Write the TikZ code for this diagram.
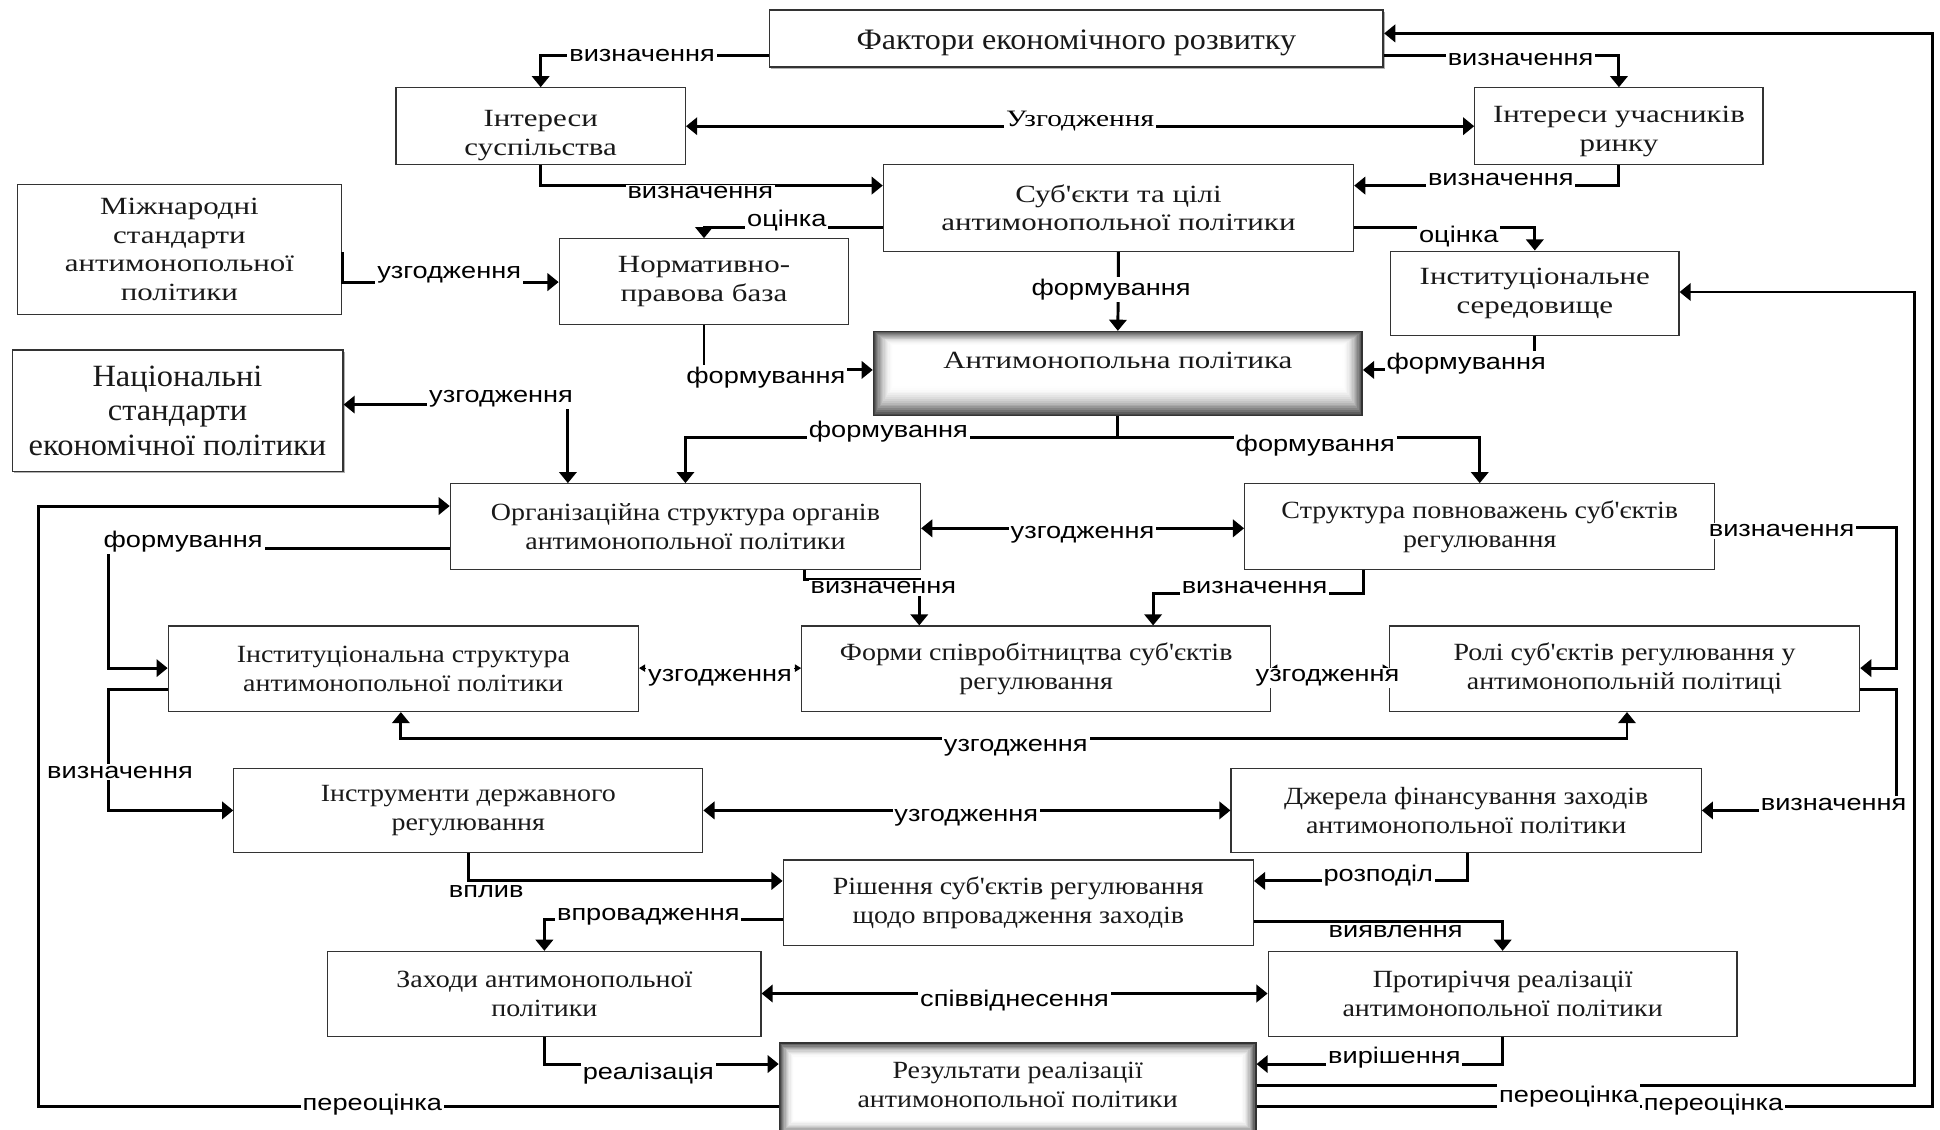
\documentclass[tikz,border=0pt]{standalone}
\usepackage{fontspec}
\setmainfont{Liberation Serif}
\newfontfamily\upfont{Liberation Serif}[FakeStretch=1.25]
\newfontfamily\lowfont{Liberation Serif}[FakeStretch=1.13]
\newfontfamily\lblfont{Liberation Sans}[FakeStretch=1.2]
\newfontfamily\bigfont{Liberation Serif}[FakeStretch=1.05]
\newfontfamily\fakfont{Liberation Serif}[FakeStretch=1.08]
\newcommand\mydn[1]{\rule{0pt}{#1pt}}
\usetikzlibrary{arrows.meta,shadows}
\begin{document}
\begin{tikzpicture}[x=1pt,y=-1pt,
  box/.style={draw=black!80, line width=1pt, fill=white, align=center, inner sep=0pt,
    font=\upfont\fontsize{20}{23}\selectfont, text=black!90},
  lbox/.style={box, font=\lowfont\fontsize{20}{23.5}\selectfont},
  bigbox/.style={box, line width=1.4pt, font=\bigfont\fontsize{25}{28}\selectfont,
    drop shadow={shadow xshift=1.5pt,shadow yshift=-1.5pt,fill=black!60}},
  glowA/.style={box, line width=1.2pt, path picture={
    \foreach \i in {0,...,16}{
      \pgfmathsetmacro\cc{72*(1-\i/16)^2}
      \fill[black!\cc] ([xshift=\i pt,yshift=1.5*\i pt]path picture bounding box.south west)
        rectangle ([xshift=-\i pt,yshift=-0.7*\i pt]path picture bounding box.north east);
    }}},
  glowB/.style={box, line width=1.2pt, path picture={
    \foreach \i in {0,...,12}{
      \pgfmathsetmacro\cc{72*(1-\i/12)^2}
      \fill[black!\cc] ([xshift=\i pt,yshift=\i pt]path picture bounding box.south west)
        rectangle ([xshift=-\i pt,yshift=-\i pt]path picture bounding box.north east);
    }}},
  conn/.style={line width=2.4pt, draw=black},
  arr/.style={conn, -{Triangle[length=9pt,width=14pt]}},
  darr/.style={conn, {Triangle[length=9pt,width=14pt]}-{Triangle[length=9pt,width=14pt]}},
  tarr/.style={line width=0.8pt, draw=black, {Triangle[length=5pt,width=6pt]}-{Triangle[length=5pt,width=6pt]}},
  lbl/.style={font=\lblfont\fontsize{18.3}{20}\selectfont, fill=white, inner sep=1.5pt},
  slbl/.style={font=\upfont\fontsize{19}{21}\selectfont, fill=white, inner sep=1.5pt}
]
\useasboundingbox (0,0) rectangle (1568,913);
\fill[white] (0,0) rectangle (1568,913);

% ---------- boxes ----------
\node[bigbox, minimum width=496pt, minimum height=46pt, font=\fakfont\fontsize{24}{27}\selectfont] (fak) at (870,31) {\mydn{24}Фактори економічного розвитку};
\node[box, minimum width=234pt, minimum height=62pt] (is) at (437,102) {\mydn{28}Інтереси\\суспільства};
\node[box, minimum width=233pt, minimum height=62pt] (iu) at (1308.5,102) {\mydn{22}Інтереси учасників\\ринку};
\node[box, minimum width=380pt, minimum height=70pt] (sc) at (904,168) {Суб'єкти та цілі\\антимонопольної політики};
\node[box, minimum width=262pt, minimum height=105pt] (mz) at (145,201.5) {Міжнародні\\стандарти\\антимонопольної\\політики};
\node[box, minimum width=234pt, minimum height=69pt] (nb) at (569,227.5) {Нормативно-\\правова база};
\node[box, minimum width=233pt, minimum height=68pt] (ise) at (1240.5,237) {Інституціональне\\середовище};
\node[glowA, minimum width=395pt, minimum height=68pt] (ap) at (903.5,302) {};
\node[font=\upfont\fontsize{20}{23}\selectfont, text=black!90, inner sep=0pt] (apt) at (903.5,291) {Антимонопольна політика};
\node[bigbox, minimum width=267pt, minimum height=98pt] (ns) at (143.5,332) {Національні\\стандарти\\економічної політики};
\node[lbox, minimum width=380pt, minimum height=69pt] (os) at (554,425.5) {Організаційна структура органів\\антимонопольної політики};
\node[lbox, minimum width=380pt, minimum height=69pt] (sp) at (1196,425.5) {Структура повноважень суб'єктів\\регулювання};
\node[lbox, minimum width=380pt, minimum height=69pt] (ist) at (326,540.5) {Інституціональна структура\\антимонопольної політики};
\node[lbox, minimum width=379pt, minimum height=69pt] (fs) at (837.5,540.5) {Форми співробітництва суб'єктів\\регулювання};
\node[lbox, minimum width=380pt, minimum height=69pt] (rs) at (1313,540.5) {Ролі суб'єктів регулювання у\\антимонопольній політиці};
\node[lbox, minimum width=379pt, minimum height=68pt] (id) at (378.5,655) {Інструменти державного\\регулювання};
\node[lbox, minimum width=380pt, minimum height=68pt] (dj) at (1185,655) {Джерела фінансування заходів\\антимонопольної політики};
\node[lbox, minimum width=380pt, minimum height=69pt] (rsh) at (823,729.5) {Рішення суб'єктів регулювання\\щодо впровадження заходів};
\node[lbox, minimum width=350pt, minimum height=69pt] (za) at (440,803.5) {Заходи антимонопольної\\політики};
\node[lbox, minimum width=379pt, minimum height=69pt] (pr) at (1214.5,803.5) {Протиріччя реалізації\\антимонопольної політики};
\node[glowB, minimum width=385pt, minimum height=74pt] (rz) at (822.5,880) {};
\node[font=\lowfont\fontsize{20}{23}\selectfont, text=black!90, align=center, inner sep=0pt] (rzt) at (822.5,877) {Результати реалізації\\антимонопольної політики};

% ---------- connectors ----------
\draw[arr] (fak.west |- 0,45) -| (is.north);
\draw[arr] (fak.east |- 0,45) -| (iu.north);
\draw[darr] (is.east) -- (iu.west);
\draw[arr] (is.south) |- (sc.west |- 0,150);
\draw[arr] (iu.south) |- (sc.east |- 0,150);
\draw[arr] (sc.west |- 0,184) -| (nb.north);
\draw[arr] (sc.east |- 0,184) -| (ise.north);
\draw[arr] (sc.south) -- (ap.north);
\draw[arr] (mz.east |- 0,204) -- (mz.east |- 0,228) -- (nb.west |- 0,228);
\draw[arr] (nb.south) |- (ap.west |- 0,299);
\draw[arr] (ise.south) |- (ap.east |- 0,299);
\draw[arr] (ap.south) -- ++(0,17) -| (os.north);
\draw[arr] (ap.south) -- ++(0,17) -| (sp.north);
\coordinate (uz) at (459,327);
\draw[arr] (uz) -- (ns.east |- uz);
\draw[arr] (uz) -- (os.north -| uz);
\draw[arr] (rz.west |- 0,894) -| (31,409) -- (os.west |- 0,409);
\draw[arr] (os.west |- 0,443) -| (88,540) -- (ist.west |- 0,540);
\draw[arr] (ist.west |- 0,557) -| (88,655) -- (id.west |- 0,655);
\draw[arr] (os.south -| 650,0) -- (650,468) -| (fs.north -| 743,0);
\draw[arr] (sp.south -| 1102,0) |- (932,480) -- (fs.north -| 932,0);
\draw[darr] (os.east |- 0,427) -- (sp.west |- 0,427);
\draw[arr] (sp.east |- 0,426) -| (1533,540) -- (rs.east |- 0,540);
\draw[arr] (rs.east |- 0,557) -| (1533,655) -- (dj.east |- 0,655);
\draw[tarr] (ist.east |- 0,540) -- (fs.west |- 0,540);
\draw[tarr] (fs.east |- 0,540) -- (rs.west |- 0,540);
\draw[darr] (ist.south -| 324,0) -- (324,597) -- (1315,597) -- (rs.south -| 1315,0);
\draw[darr] (id.east) -- (dj.west);
\draw[arr] (id.south) |- (rsh.west |- 0,712);
\draw[arr] (rsh.west |- 0,743) -| (za.north);
\draw[arr] (dj.south -| 1186,0) |- (rsh.east |- 0,712);
\draw[arr] (rsh.east |- 0,745) -| (pr.north);
\draw[darr] (za.east |- 0,803) -- (pr.west |- 0,803);
\draw[arr] (za.south) |- (rz.west |- 0,860);
\draw[arr] (pr.south) |- (rz.east |- 0,860);
\draw[arr] (rz.east |- 0,877) -| (1547,236) -- (ise.east |- 0,236);
\draw[arr] (rz.east |- 0,894) -| (1562,27) -- (fak.east |- 0,27);

% ---------- labels ----------
\node[lbl] (l1) at (519,45) {визначення};
\node[lbl] (l2) at (1229,48) {визначення};
\node[slbl] (l3) at (873,98) {Узгодження};
\node[lbl] (l4) at (566,156) {визначення};
\node[lbl] (l5) at (1213,145) {визначення};
\node[lbl] (l6) at (636,178) {оцінка};
\node[lbl] (l7) at (1179,191) {оцінка};
\node[lbl] (l8) at (898,234) {формування};
\node[lbl] (l9) at (363,222) {узгодження};
\node[lbl] (l10) at (619,305) {формування};
\node[lbl] (l11) at (1185,294) {формування};
\node[lbl] (l12) at (718,349) {формування};
\node[lbl] (l13) at (1063,360) {формування};
\node[lbl] (l14) at (405,322) {узгодження};
\node[lbl] (l15) at (301,893) {переоцінка};
\node[lbl] (l16) at (148,438) {формування};
\node[lbl] (l17) at (97,624) {визначення};
\node[lbl] (l18) at (714,475) {визначення};
\node[lbl] (l19) at (1014,475) {визначення};
\node[lbl] (l20) at (875,432) {узгодження};
\node[lbl] (l21) at (1440,429) {визначення};
\node[lbl] (l22) at (1482,650) {визначення};
\node[lbl] (l23) at (582,548) {узгодження};
\node[lbl] (l24) at (1073,548) {узгодження};
\node[lbl] (l25) at (821,604) {узгодження};
\node[lbl] (l26) at (781,661) {узгодження};
\node[lbl] (l27) at (393,721) {вплив};
\node[lbl] (l28) at (524,741) {впровадження};
\node[lbl] (l29) at (1114,708) {розподіл};
\node[lbl] (l30) at (1128,753) {виявлення};
\node[lbl] (l31) at (820,809) {співвіднесення};
\node[lbl] (l32) at (524,868) {реалізація};
\node[lbl] (l33) at (1127,855) {вирішення};
\node[lbl] (l34) at (1268,886) {переоцінка};
\node[lbl] (l35) at (1385,893) {переоцінка};
\end{tikzpicture}
\end{document}
